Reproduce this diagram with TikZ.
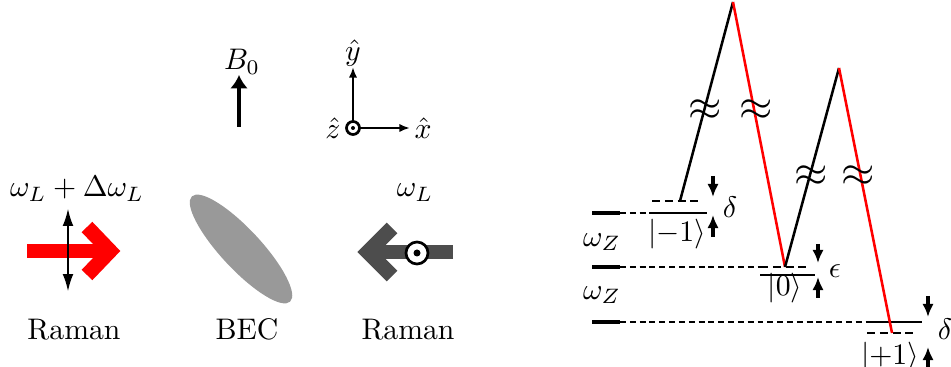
\documentclass[tikz,border=0pt]{standalone}
\usetikzlibrary{arrows.meta}

\definecolor{ramanred}{RGB}{255,0,0}
\definecolor{ramangray}{RGB}{77,77,77}
\definecolor{becgray}{RGB}{153,153,153}

\tikzset{
  beam/.style     = {line width=5pt, miter limit=10},
  pol/.style      = {line width=0.9pt, {Latex[length=6pt,width=3.6pt]}-{Latex[length=6pt,width=3.6pt]}},
  axisline/.style = {line width=0.7pt, -{Latex[length=3.6pt,width=2.8pt]}},
  bar/.style      = {line width=1.6pt},
  guide/.style    = {line width=0.5pt, dash pattern=on 2pt off 1.3pt},
  level/.style    = {line width=0.9pt},
  shifted/.style  = {line width=0.9pt, dash pattern=on 2.7pt off 1.6pt},
  shiftarrow/.style = {line width=1.2pt, -{Latex[length=4.4pt,width=3.8pt]}},
  pump/.style     = {line width=0.85pt, black},
  stokes/.style   = {line width=0.85pt, ramanred},
  brk/.style      = {font=\fontsize{14}{15}\selectfont, inner sep=0pt},
}

\begin{document}
\begin{tikzpicture}[x = 0.336pt, y = 0.336pt]
\useasboundingbox (0, 0) rectangle (951, 367);

% left Raman beam with its polarisation
\draw[beam, ramanred] (27, 116) -- (104, 116);
\draw[beam, ramanred] (87, 140) -- (110, 116) -- (87, 92);
\coordinate (polB) at (68, 75);
\coordinate (polT) at (68, 159);
\draw[pol] (polB) -- (polT);
\node[anchor=base] (omegaA) at (77, 170) {$\omega_L + \Delta\omega_L$};
\node[anchor=base] (ramanA) at (74, 27) {Raman};

% the condensate
\coordinate (becC) at (241, 118);
\fill[becgray, rotate around={-47:(becC)}] (becC) ellipse [x radius=72, y radius=20];
\node[anchor=base] (bec) at (247, 27) {BEC};

% right Raman beam, polarised out of the plane
\draw[beam, ramangray] (453, 115) -- (375, 115);
\draw[beam, ramangray] (392, 139) -- (368, 115) -- (392, 91);
\coordinate (dotB) at (417, 114);
\draw[fill=white, line width=0.9pt] (dotB) circle (11);
\fill (dotB) circle (3.5);
\node[anchor=base] (omegaB) at (415, 170) {$\omega_L$};
\node[anchor=base] (ramanB) at (408, 27) {Raman};

% bias field
\coordinate (fieldS) at (239, 240);
\coordinate (fieldE) at (239, 292);
\draw[line width=1.35pt, -{Latex[length=4.5pt,width=6pt]}] (fieldS) -- (fieldE);
\node (field) at (242, 305) {$B_0$};

% axes
\coordinate (origin) at (353, 239);
\coordinate (yEnd) at (353, 300);
\coordinate (xEnd) at (410, 239);
\draw[axisline] (origin) -- (yEnd);
\draw[axisline] (origin) -- (xEnd);
\draw[fill=white, line width=0.9pt] (origin) circle (6.5);
\fill (origin) circle (2);
\node (yhat) at (353, 314) {$\hat{y}$};
\node[anchor=west, inner sep=1pt] (xhat) at (411, 239) {$\hat{x}$};
\node (zhat) at (333, 239) {$\hat{z}$};

% bare Zeeman ladder
\foreach \yy in {154, 100, 45}
  \draw[bar] (592, \yy) -- (620, \yy);
\draw[guide] (620, 154) -- (652, 154);
\draw[guide] (620, 100) -- (760, 100);
\draw[guide] (620, 45) -- (867, 45);
\node (wzA) at (602, 125) {$\omega_Z$};
\node (wzB) at (602, 72) {$\omega_Z$};

% dressed levels
\draw[level]   (652, 154) -- (707, 154);
\draw[shifted] (652, 166) -- (700, 166);
\draw[shifted] (760, 100) -- (810, 100);
\draw[level]   (760, 92) -- (815, 92);
\draw[level]   (867, 45) -- (922, 45);
\draw[shifted] (867, 34) -- (915, 34);
\node (ketM) at (677, 133) {$|{-1}\rangle$};
\node (ketZ) at (785, 79) {$|0\rangle$};
\node (ketP) at (890, 10) {$|{+1}\rangle$};

% detunings
\draw[shiftarrow] (713, 191) -- (713, 170);
\draw[shiftarrow] (713, 130) -- (713, 152);
\node (deltaA) at (730, 160) {$\delta$};
\draw[shiftarrow] (818, 123) -- (818, 104);
\draw[shiftarrow] (818, 69) -- (818, 90);
\node (eps) at (835, 96) {$\epsilon$};
\draw[shiftarrow] (928, 71) -- (928, 50);
\draw[shiftarrow] (928, 0) -- (928, 20);
\node (deltaB) at (945, 38) {$\delta$};

% two-photon transitions
\coordinate (mOne) at (680, 166);
\coordinate (apexA) at (733, 365);
\coordinate (zero) at (785, 100);
\coordinate (apexB) at (839, 299);
\coordinate (pOne) at (892, 34);
\draw[pump] (mOne) -- (apexA);
\draw[stokes] (apexA) -- (zero);
\draw[pump] (zero) -- (apexB);
\draw[stokes] (apexB) -- (pOne);
\node[brk] (brkA) at (705, 257) {$\approx$};
\node[brk] (brkB) at (756, 257) {$\approx$};
\node[brk] (brkC) at (811, 191) {$\approx$};
\node[brk] (brkD) at (858, 191) {$\approx$};

\end{tikzpicture}
\end{document}
